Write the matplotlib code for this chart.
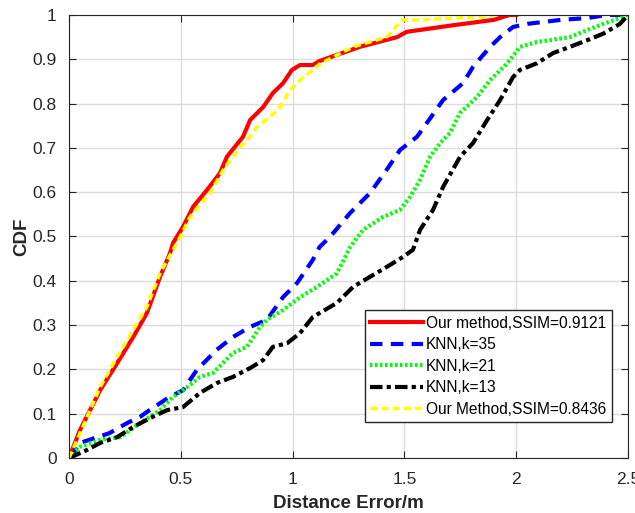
#####################################################################################
# IMPORTS
#####################################################################################

import matplotlib
matplotlib.use('Agg')
import matplotlib.pyplot as plt

plt.rcParams['font.family'] = ['Liberation Sans', 'DejaVu Sans']

#####################################################################################
# DATA
#####################################################################################

# Our method, SSIM=0.9121
red_x = [0, 0.049, 0.139, 0.215, 0.287, 0.348, 0.407, 0.452, 0.465, 0.51, 0.555, 0.617,
         0.675, 0.706, 0.778, 0.81, 0.868, 0.912, 0.957, 0.997, 1.033, 1.09, 1.12, 1.30,
         1.467, 1.51, 1.72, 1.90, 1.97, 2.0]
red_y = [0, 0.063, 0.153, 0.214, 0.273, 0.327, 0.409, 0.463, 0.485, 0.522, 0.567, 0.605,
         0.643, 0.68, 0.725, 0.763, 0.792, 0.824, 0.846, 0.876, 0.887, 0.887, 0.896, 0.928,
         0.95, 0.962, 0.977, 0.989, 1.0, 1.0]

# KNN, k=35
blue_x = [0.005, 0.049, 0.18, 0.26, 0.318, 0.36, 0.45, 0.51, 0.572, 0.66, 0.733, 0.81,
          0.885, 0.957, 1.02, 1.09, 1.12, 1.167, 1.257, 1.346, 1.42, 1.48, 1.556, 1.60,
          1.673, 1.762, 1.807, 1.883, 1.928, 1.986, 2.05, 2.2, 2.317, 2.406, 2.5]
blue_y = [0, 0.034, 0.056, 0.079, 0.093, 0.108, 0.138, 0.153, 0.199, 0.244, 0.273, 0.296,
          0.312, 0.363, 0.395, 0.447, 0.476, 0.499, 0.553, 0.598, 0.65, 0.695, 0.725, 0.756,
          0.808, 0.846, 0.883, 0.928, 0.95, 0.973, 0.98, 0.989, 0.993, 1.0, 1.0]

# KNN, k=21
green_x = [0, 0.049, 0.139, 0.228, 0.318, 0.407, 0.465, 0.528, 0.586, 0.644, 0.733, 0.796,
           0.854, 0.885, 0.957, 1.033, 1.109, 1.198, 1.257, 1.315, 1.404, 1.48, 1.525, 1.57,
           1.615, 1.66, 1.704, 1.749, 1.825, 1.883, 1.96, 2.017, 2.093, 2.24, 2.317, 2.39,
           2.464, 2.495]
green_y = [0, 0.025, 0.041, 0.047, 0.079, 0.108, 0.138, 0.16, 0.183, 0.192, 0.237, 0.251,
           0.296, 0.312, 0.334, 0.363, 0.386, 0.417, 0.476, 0.515, 0.544, 0.56, 0.589, 0.628,
           0.68, 0.711, 0.734, 0.779, 0.815, 0.853, 0.891, 0.928, 0.939, 0.95, 0.966, 0.98,
           0.993, 1.0]

# KNN, k=13
black_x = [0, 0.08, 0.139, 0.215, 0.287, 0.362, 0.438, 0.51, 0.586, 0.66, 0.733, 0.81,
           0.868, 0.912, 0.975, 1.033, 1.09, 1.12, 1.198, 1.27, 1.346, 1.42, 1.494, 1.538,
           1.57, 1.628, 1.673, 1.749, 1.807, 1.87, 1.928, 1.986, 2.017, 2.093, 2.165, 2.24,
           2.317, 2.39, 2.464, 2.5]
black_y = [0, 0.018, 0.034, 0.047, 0.07, 0.09, 0.108, 0.115, 0.147, 0.169, 0.183, 0.203,
           0.221, 0.251, 0.259, 0.282, 0.318, 0.327, 0.35, 0.386, 0.409, 0.431, 0.454, 0.47,
           0.515, 0.56, 0.612, 0.68, 0.711, 0.763, 0.808, 0.86, 0.876, 0.891, 0.914, 0.928,
           0.943, 0.958, 0.98, 1.0]

# Our Method, SSIM=0.8436
yellow_x = [0, 0.035, 0.139, 0.215, 0.287, 0.348, 0.407, 0.465, 0.483, 0.541, 0.631, 0.689,
            0.733, 0.796, 0.84, 0.899, 0.944, 0.988, 1.033, 1.09, 1.12, 1.27, 1.42, 1.49,
            1.555, 1.87, 1.90]
yellow_y = [0, 0.04, 0.16, 0.228, 0.289, 0.341, 0.417, 0.47, 0.485, 0.544, 0.598, 0.65,
            0.68, 0.718, 0.747, 0.77, 0.792, 0.83, 0.853, 0.876, 0.889, 0.928, 0.95, 0.989,
            0.989, 0.996, 1.0]

labels = ['Our method,SSIM=0.9121', 'KNN,k=35', 'KNN,k=21', 'KNN,k=13',
          'Our Method,SSIM=0.8436']

#####################################################################################
# PLOT
#####################################################################################

fig = plt.figure(figsize=(6.35, 5.13), dpi=100)
ax = fig.add_axes([0.1087, 0.1072, 0.8803, 0.8636])

ax.plot(red_x, red_y, linestyle='-', color='#ff0000', linewidth=3, label=labels[0])
ax.plot(blue_x, blue_y, linestyle=(0, (3, 2)), color='#0000ff', linewidth=3, label=labels[1])
ax.plot(green_x, green_y, linestyle=(0, (0.6, 0.6)), color='#00ff00', linewidth=3, label=labels[2])
ax.plot(black_x, black_y, linestyle=(0, (3, 1, 1, 1)), color='black', linewidth=3, label=labels[3])
ax.plot(yellow_x, yellow_y, linestyle=(0, (2, 1.2)), color='#ffff00', linewidth=2.5, label=labels[4])

ax.set_xlim(0, 2.5)
ax.set_ylim(0, 1)
ax.set_xticks([0, 0.5, 1, 1.5, 2, 2.5])
ax.set_xticklabels(['0', '0.5', '1', '1.5', '2', '2.5'])
ax.set_yticks([i / 10 for i in range(11)])
ax.set_yticklabels(['0', '0.1', '0.2', '0.3', '0.4', '0.5', '0.6', '0.7', '0.8', '0.9', '1'])
ax.tick_params(direction='in', labelsize=12.5, labelcolor='#262626', color='#262626',
               top=True, right=True, length=5)
ax.tick_params(axis='x', pad=10)
ax.tick_params(axis='y', pad=9)
ax.grid(True, color='#dcdcdc', linewidth=1)
ax.set_axisbelow(True)
for s in ax.spines.values():
	s.set_color('#262626')

ax.set_xlabel('Distance Error/m', fontsize=13.5, fontweight='bold', color='#262626', labelpad=6)
ax.set_ylabel('CDF', fontsize=13.5, fontweight='bold', color='#262626', labelpad=1.5)

leg = ax.legend(loc='lower right', bbox_to_anchor=(0.971, 0.081), fontsize=11.2,
                fancybox=False, framealpha=1, edgecolor='#262626', handlelength=3.4,
                handletextpad=0.2, labelspacing=0.42, borderpad=0.35, borderaxespad=0)
leg.get_frame().set_linewidth(1)

fig.savefig('out.png', dpi=100)
